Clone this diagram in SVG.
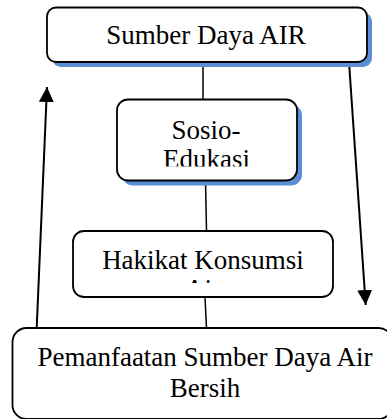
<svg xmlns="http://www.w3.org/2000/svg" width="387" height="419" viewBox="0 0 387 419">
  <style>
    .box { fill: #ffffff; stroke: #000000; stroke-width: 1.8; }
    .shadow { fill: #5b8ed6; stroke: none; }
    .label { font-family: "Liberation Serif", "Times New Roman", serif; font-size: 27px; fill: #000000; text-anchor: middle; }
    .link { stroke: #000000; stroke-width: 1.5; fill: none; }
    .flow { stroke: #000000; stroke-width: 2; fill: none; marker-end: url(#head); }
  </style>
  <defs>
    <marker id="head" markerUnits="userSpaceOnUse" markerWidth="16" markerHeight="16" refX="15" refY="7.5" orient="auto">
      <path d="M0,0 L15,7.5 L0,15 Z" fill="#000000"/>
    </marker>
    <clipPath id="clip-sosio">
      <rect x="117" y="100" width="180" height="66.5"/>
    </clipPath>
    <clipPath id="clip-hakikat">
      <rect x="73" y="231" width="260" height="52"/>
    </clipPath>
  </defs>

  <rect width="387" height="419" fill="#ffffff"/>

  <!-- connectors -->
  <g id="connectors">
    <line class="link" x1="203" y1="62" x2="203" y2="99.5"/>
    <line class="link" x1="205.5" y1="181" x2="206.5" y2="231"/>
    <line class="link" x1="205" y1="297" x2="206.5" y2="328"/>
    <line class="flow" x1="36.7" y1="328" x2="47" y2="87"/>
    <line class="flow" x1="349" y1="62" x2="365.7" y2="305"/>
  </g>

  <g id="node-sumber-daya">
    <rect class="shadow" x="52" y="12.5" width="320" height="54.5" rx="9"/>
    <rect class="box" x="47" y="7.5" width="320" height="54.5" rx="9"/>
    <text class="label" x="206" y="44">Sumber Daya AIR</text>
  </g>

  <g id="node-sosio-edukasi">
    <rect class="shadow" x="122" y="104.5" width="180" height="81" rx="11"/>
    <rect class="box" x="117" y="99.5" width="180" height="81" rx="11"/>
    <g clip-path="url(#clip-sosio)">
      <text class="label" x="206" y="138.5">Sosio-</text>
      <text class="label" x="206.5" y="168">Edukasi</text>
    </g>
  </g>

  <g id="node-hakikat">
    <rect class="box" x="73" y="231" width="260" height="66" rx="11"/>
    <g clip-path="url(#clip-hakikat)">
      <text class="label" x="203" y="268.5">Hakikat Konsumsi</text>
      <text class="label" x="203" y="298">Air</text>
    </g>
  </g>

  <g id="node-pemanfaatan">
    <rect class="box" x="12.5" y="328" width="380" height="91" rx="14"/>
    <text class="label" x="205" y="366">Pemanfaatan Sumber Daya Air</text>
    <text class="label" x="205" y="397">Bersih</text>
  </g>
</svg>
